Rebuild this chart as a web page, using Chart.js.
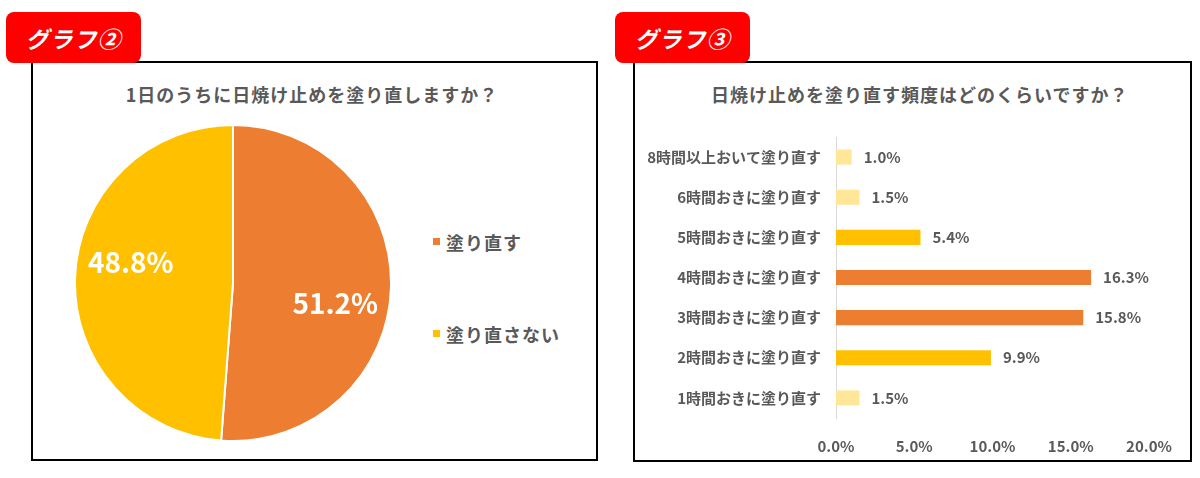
<!DOCTYPE html>
<html lang="ja">
<head>
<meta charset="utf-8">
<title>日焼け止めの塗り直し</title>
<script src="https://cdn.jsdelivr.net/npm/chart.js@4.4.1/dist/chart.umd.min.js"></script>
<style>
  html, body { margin: 0; padding: 0; background: #fff; }
  body {
    width: 1200px; height: 478px; position: relative; overflow: hidden;
    font-family: "Noto Sans CJK JP", "Noto Sans", sans-serif; color: #595959;
  }
  .box { position: absolute; border: 2px solid #000; box-sizing: border-box; }
  .tag {
    position: absolute; width: 135px; height: 51px; top: 12px;
    background: #ff0000; color: #fff; border-radius: 8px;
    font-size: 23px; font-weight: bold; font-style: italic; letter-spacing: 1px;
    display: flex; align-items: center; justify-content: center;
  }
  .title {
    position: absolute; top: 83px; width: 400px; line-height: 22px;
    font-size: 18px; font-weight: bold; letter-spacing: 1px;
    text-align: center; white-space: nowrap;
  }
  .wrap { position: absolute; }
  #pie-legend { position: absolute; left: 433px; top: 230px; }
  #pie-legend .item {
    display: flex; align-items: center; height: 23px; margin-bottom: 69px;
    font-size: 18px; font-weight: bold; letter-spacing: 1px; white-space: nowrap;
  }
  #pie-legend .swatch { width: 7px; height: 7px; margin-right: 6px; }
</style>
</head>
<body>

<div class="box" style="left:31px; top:61px; width:567px; height:400px;"></div>
<div class="box" style="left:633px; top:61px; width:559px; height:401px;"></div>

<div class="tag" style="left:6px;">グラフ②</div>
<div class="tag" style="left:615px;">グラフ③</div>

<div class="title" style="left:112px;">1日のうちに日焼け止めを塗り直しますか？</div>
<div class="title" style="left:711px;">日焼け止めを塗り直す頻度はどのくらいですか？</div>

<div class="wrap" style="left:73px; top:123px; width:320px; height:320px;">
  <canvas id="pie-chart"></canvas>
</div>
<div id="pie-legend"></div>

<div class="wrap" style="left:640px; top:107px; width:545px; height:349px;">
  <canvas id="bar-chart"></canvas>
</div>

<script>
// グラフ② 1日のうちに塗り直すか
const pieLabels = ["塗り直す", "塗り直さない"];
const pieValues = [51.2, 48.8];
const pieColors = ["#ED7D31", "#FFC000"];

// グラフ③ 塗り直す頻度（上から順）
const barLabels = [
  "8時間以上おいて塗り直す",
  "6時間おきに塗り直す",
  "5時間おきに塗り直す",
  "4時間おきに塗り直す",
  "3時間おきに塗り直す",
  "2時間おきに塗り直す",
  "1時間おきに塗り直す",
];
const barValues = [1.0, 1.5, 5.4, 16.3, 15.8, 9.9, 1.5];
const barColors = ["#FFE699", "#FFE699", "#FFC000", "#ED7D31", "#ED7D31", "#FFC000", "#FFE699"];

const xTicks = [0, 5, 10, 15, 20];

const FONT = "'Noto Sans CJK JP', 'Noto Sans', sans-serif";
const TEXT_COLOR = "#595959";

Chart.defaults.font.family = FONT;
Chart.defaults.color = TEXT_COLOR;

function pct(v) {
  return v.toFixed(1) + "%";
}

// percentages inside the slices
const pieLabelPlugin = {
  id: "pieLabels",
  afterDatasetsDraw(chart) {
    const ctx = chart.ctx;
    const meta = chart.getDatasetMeta(0);
    ctx.save();
    ctx.font = "bold 28px " + FONT;
    ctx.fillStyle = "#fff";
    ctx.textAlign = "center";
    ctx.textBaseline = "middle";
    meta.data.forEach((arc, i) => {
      const p = arc.getProps(["x", "y", "startAngle", "endAngle", "outerRadius"], true);
      const mid = (p.startAngle + p.endAngle) / 2 + 0.16;
      const r = p.outerRadius * 0.66;
      ctx.fillText(pct(pieValues[i]), p.x + Math.cos(mid) * r, p.y + Math.sin(mid) * r);
    });
    ctx.restore();
  },
};

// value labels at the end of each bar
const barLabelPlugin = {
  id: "barLabels",
  afterDatasetsDraw(chart) {
    const ctx = chart.ctx;
    const meta = chart.getDatasetMeta(0);
    ctx.save();
    ctx.font = "bold 15px " + FONT;
    ctx.fillStyle = TEXT_COLOR;
    ctx.textAlign = "left";
    ctx.textBaseline = "middle";
    meta.data.forEach((bar, i) => {
      ctx.fillText(pct(barValues[i]), bar.x + 12, bar.y);
    });
    ctx.restore();
  },
};

function renderLegend() {
  const legend = document.getElementById("pie-legend");
  legend.innerHTML = pieLabels
    .map(
      (label, i) => `
      <div class="item">
        <span class="swatch" style="background:${pieColors[i]}"></span>${label}
      </div>`
    )
    .join("");
}

new Chart(document.getElementById("pie-chart"), {
  type: "pie",
  data: {
    labels: pieLabels,
    datasets: [
      {
        data: pieValues,
        backgroundColor: pieColors,
        borderColor: "#fff",
        borderWidth: 2,
      },
    ],
  },
  options: {
    responsive: true,
    maintainAspectRatio: false,
    animation: false,
    radius: 158,
    plugins: {
      legend: { display: false },
      tooltip: { enabled: false },
    },
  },
  plugins: [pieLabelPlugin],
});

new Chart(document.getElementById("bar-chart"), {
  type: "bar",
  data: {
    labels: barLabels,
    datasets: [
      {
        data: barValues,
        backgroundColor: barColors,
        categoryPercentage: 1,
        barPercentage: 0.375,
      },
    ],
  },
  options: {
    indexAxis: "y",
    responsive: true,
    maintainAspectRatio: false,
    animation: false,
    layout: {
      padding: { top: 30, right: 36, bottom: 0, left: 0 },
    },
    scales: {
      x: {
        min: xTicks[0],
        max: xTicks[xTicks.length - 1],
        afterBuildTicks: (scale) => {
          scale.ticks = xTicks.map((v) => ({ value: v }));
        },
        afterFit: (scale) => {
          scale.height = 38;
        },
        grid: { display: false },
        border: { display: false },
        ticks: {
          padding: 11,
          color: TEXT_COLOR,
          font: { size: 15, weight: "bold" },
          callback: (v) => pct(v),
        },
      },
      y: {
        afterFit: (scale) => {
          scale.width = 196;
        },
        grid: { display: true, drawOnChartArea: false, drawTicks: false },
        border: { display: true, color: "#D9D9D9", width: 1 },
        ticks: {
          padding: 15,
          color: TEXT_COLOR,
          font: { size: 15, weight: "bold" },
        },
      },
    },
    plugins: {
      legend: { display: false },
      tooltip: { enabled: false },
    },
  },
  plugins: [barLabelPlugin],
});

renderLegend();
</script>
</body>
</html>
